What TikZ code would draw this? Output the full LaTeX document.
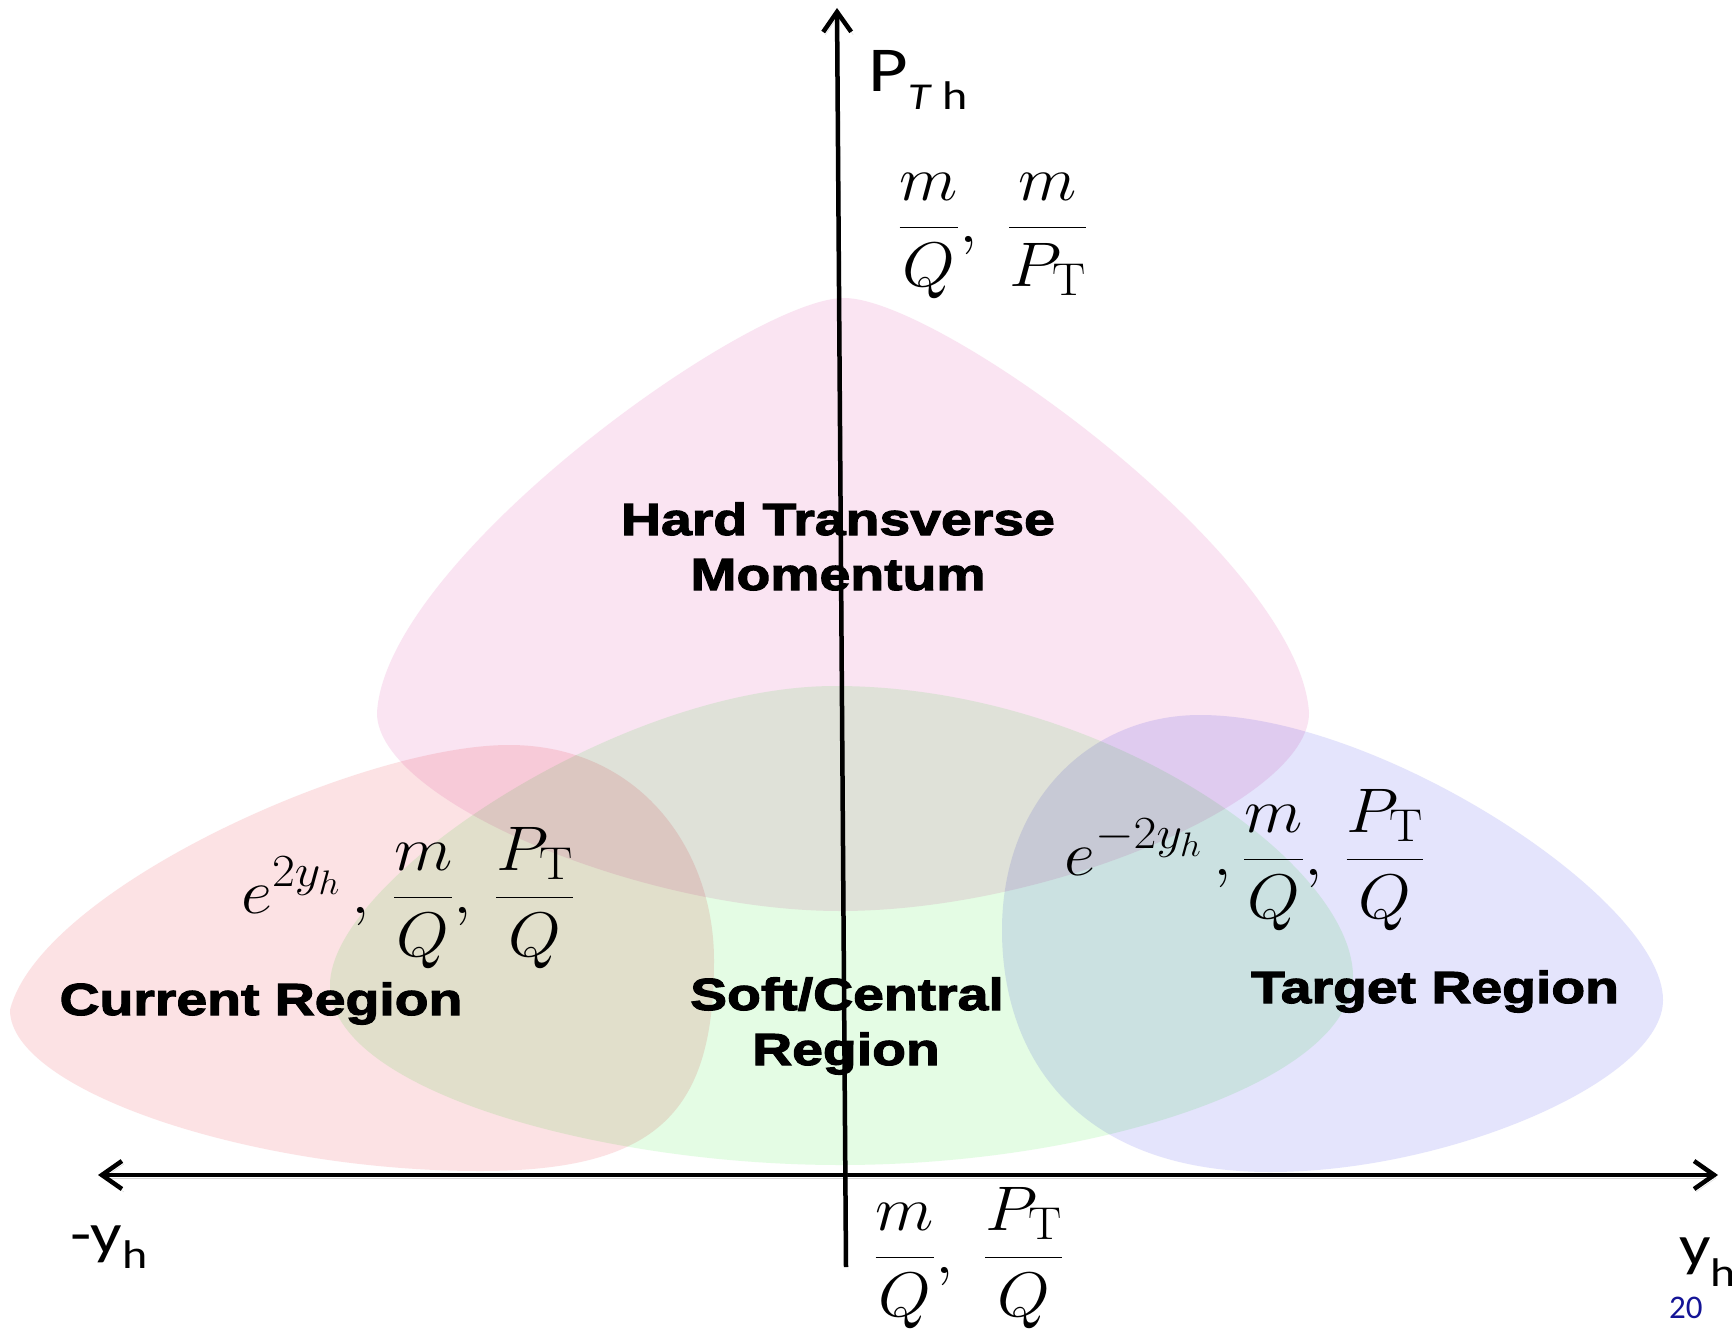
\RequirePackage{fix-cm}
\documentclass[tikz,border=0pt]{standalone}
\usepackage{fontspec}
\usetikzlibrary{arrows.meta}
\newfontfamily\heavyfont{Liberation Sans}[FakeStretch=1.23,FakeBold=2.5]
\newfontfamily\carl{Carlito}
\DeclareMathSizes{63}{63}{46}{34}
\newcommand{\hsc}[1]{\scalebox{1.08}[1]{#1}}
\newcommand{\asc}[1]{\scalebox{1.2}[1]{#1}}
\definecolor{hardc}{RGB}{250,228,242}
\definecolor{softc}{RGB}{228,252,228}
\definecolor{curc}{RGB}{252,226,228}
\definecolor{tarc}{RGB}{228,228,252}
\definecolor{pagenum}{RGB}{20,20,150}
\tikzset{
  region/.style={blend mode=multiply},
  lbl/.style={font=\heavyfont\bfseries\fontsize{45}{50}\selectfont, inner sep=0pt, anchor=base},
  mth/.style={font=\fontsize{63}{68}\selectfont, inner sep=0pt, anchor=base west},
  axis/.style={line width=4.5pt, black,
    preaction={draw=black!45, opacity=0.35, transform canvas={shift={(2pt,-3pt)}}}},
  axlbl/.style={font=\carl, inner sep=0pt, anchor=base west}
}
\begin{document}
\begin{tikzpicture}[x=1pt,y=-1pt]
\useasboundingbox (0,0) rectangle (1732,1340);
\fill[white] (0,0) rectangle (1732,1340);
% regions
\fill[region, hardc] (844,298) .. controls (940,298) and (1300,560) .. (1309,713)
  .. controls (1309,800) and (1050,911) .. (840,911)
  .. controls (640,911) and (377,800) .. (377,713)
  .. controls (385,560) and (750,298) .. cycle;
\fill[region, softc] (835,686) .. controls (1100,686) and (1350,860) .. (1353,975)
  .. controls (1353,1080) and (1100,1165) .. (840,1165)
  .. controls (600,1165) and (330,1090) .. (330,985)
  .. controls (330,880) and (620,686) .. cycle;
\fill[region, curc] (10,1010) .. controls (40,890) and (360,745) .. (509,745)
  .. controls (640,745) and (714,850) .. (714,960)
  .. controls (714,1110) and (660,1171) .. (480,1171)
  .. controls (250,1171) and (10,1090) .. cycle;
\fill[region, tarc] (1200,715) .. controls (1380,715) and (1663,900) .. (1663,1000)
  .. controls (1663,1080) and (1450,1172) .. (1270,1172)
  .. controls (1080,1172) and (1002,1060) .. (1002,930)
  .. controls (1002,800) and (1090,715) .. cycle;
% axes
\coordinate (xL) at (98,1175);
\coordinate (xR) at (1718,1175);
\coordinate (yB) at (846,1267);
\coordinate (yT) at (837,8);
\draw[axis, {Straight Barb[length=20pt,width=28pt]}-{Straight Barb[length=20pt,width=28pt]}] (xL) -- (xR);
\draw[axis, -{Straight Barb[length=20pt,width=28pt]}] (yB) -- (yT);
% region labels
\node[lbl] (hard1) at (838,535) {Hard Transverse};
\node[lbl] (hard2) at (838,590) {Momentum};
\node[lbl] (cur) at (261,1015) {Current Region};
\node[lbl] (soft1) at (847,1010) {Soft/Central};
\node[lbl] (soft2) at (846,1065) {Region};
\node[lbl] (tar) at (1435,1003) {Target Region};
% math
\node[mth] (mtop) at (898,243) {\hsc{$\displaystyle\frac{m}{Q},\;\frac{m}{P_{\mathrm{T}}}$}};
\node[mth] (mleft) at (241,913) {\hsc{$\displaystyle e^{2y_h}\,,\,\frac{m}{Q},\,\frac{P_{\mathrm{T}}}{Q}$}};
\node[mth] (mright) at (1064,875) {\hsc{$\displaystyle e^{-2y_h}\,,\frac{m}{Q},\,\frac{P_{\mathrm{T}}}{Q}$}};
\node[mth] (mbot) at (874,1273) {\hsc{$\displaystyle\frac{m}{Q},\;\frac{P_{\mathrm{T}}}{Q}$}};
% axis labels
\node[axlbl] (pth) at (868,92) {\asc{\fontsize{64}{64}\selectfont P\raisebox{-18pt}{\fontsize{38}{38}\selectfont\itshape T}\,\raisebox{-18pt}{\fontsize{40}{40}\selectfont h}}};
\node[axlbl] (ymin) at (70,1253) {\asc{\fontsize{58}{58}\selectfont -y\raisebox{-15pt}{\fontsize{40}{40}\selectfont h}}};
\node[axlbl] (yplus) at (1679,1265) {\asc{\fontsize{58}{58}\selectfont y\raisebox{-21pt}{\fontsize{40}{40}\selectfont h}}};
\node[axlbl, text=pagenum] (pg) at (1669,1318) {\fontsize{33}{33}\selectfont 20};
\end{tikzpicture}
\end{document}
